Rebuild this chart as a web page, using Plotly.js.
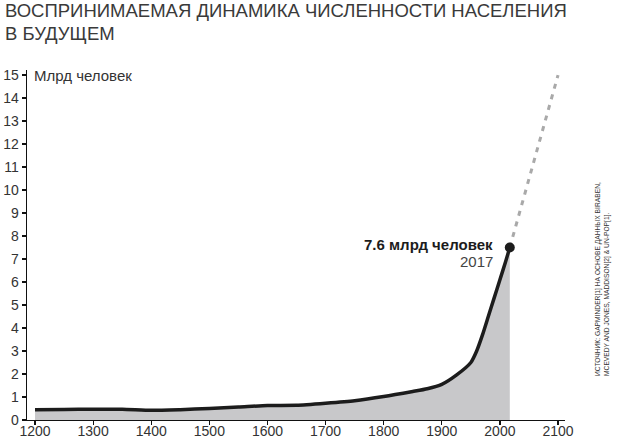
<!DOCTYPE html>
<html>
<head>
<meta charset="utf-8">
<script src="https://cdn.plot.ly/plotly-3.0.1.min.js"></script>
<style>html,body{margin:0;padding:0;background:#fff;}#chart{width:619px;height:438px;}</style>
</head>
<body>
<div id="chart"></div>
<script>
// Historical world population (billions)
const years = [1200, 1250, 1300, 1350, 1400, 1450, 1500, 1550, 1600, 1650, 1700, 1750, 1800, 1850, 1875, 1900, 1925, 1950, 1960, 1970, 1980, 1990, 2000, 2010, 2017];
const population = [0.45, 0.46, 0.47, 0.47, 0.42, 0.45, 0.50, 0.56, 0.63, 0.64, 0.73, 0.84, 1.02, 1.24, 1.36, 1.55, 1.95, 2.5, 3.0, 3.7, 4.5, 5.3, 6.1, 6.9, 7.5];
// Perceived future trend (dashed)
const projYears = [2017, 2100];
const projPop = [7.5, 15];
// Endpoint marker
const endYear = [2017];
const endPop = [7.5];
const xTicks = [1200, 1300, 1400, 1500, 1600, 1700, 1800, 1900, 2000, 2100];
const yTicks = [0, 1, 2, 3, 4, 5, 6, 7, 8, 9, 10, 11, 12, 13, 14, 15];
const titleLines = ['ВОСПРИНИМАЕМАЯ ДИНАМИКА ЧИСЛЕННОСТИ НАСЕЛЕНИЯ', 'В БУДУЩЕМ'];

const FONT = "Liberation Sans, Arial, Helvetica, sans-serif";

const traces = [
  {
    x: years, y: population, type: 'scatter', mode: 'lines',
    line: {color: '#1c1c1c', width: 3.5, shape: 'spline', smoothing: 0.6},
    fill: 'tozeroy', fillcolor: '#c8c8ca', hoverinfo: 'skip'
  },
  {
    x: projYears, y: projPop, type: 'scatter', mode: 'lines',
    line: {color: '#a9a9a9', width: 3, dash: '5px,6px'}, hoverinfo: 'skip'
  },
  {
    x: endYear, y: endPop, type: 'scatter', mode: 'markers',
    marker: {color: '#1c1c1c', size: 10}, hoverinfo: 'skip'
  }
];

// plot area: top 70px, height 350px
const py = px => (420 - px) / 350;

const layout = {
  width: 619, height: 438,
  margin: {l: 27, r: 54, t: 70, b: 18},
  paper_bgcolor: '#fff', plot_bgcolor: '#fff',
  showlegend: false,
  font: {family: FONT, color: '#333', size: 14},
  xaxis: {
    range: [1186.2, 2112], tickvals: xTicks, ticktext: xTicks.map(String),
    showline: true, linecolor: '#111', linewidth: 1.3,
    ticks: 'outside', ticklen: 4, tickcolor: '#111', tickwidth: 1.2,
    ticklabelstandoff: -6,
    showgrid: false, zeroline: false,
    tickfont: {family: FONT, size: 14, color: '#333'}, fixedrange: true
  },
  yaxis: {
    range: [0, 15.22], tickvals: yTicks, ticktext: yTicks.map(String),
    showline: true, linecolor: '#111', linewidth: 1.3,
    ticks: 'outside', ticklen: 4, tickcolor: '#111', tickwidth: 1.2,
    showgrid: false, zeroline: false,
    tickfont: {family: FONT, size: 14, color: '#333'}, fixedrange: true
  },
  annotations: [
    {
      text: titleLines[0], xref: 'paper', x: (3 - 27) / 538, xanchor: 'left',
      yref: 'paper', y: py(11), yanchor: 'middle', showarrow: false,
      font: {family: FONT, size: 18.5, color: '#3a3a3a'}
    },
    {
      text: titleLines[1], xref: 'paper', x: (3 - 27) / 538, xanchor: 'left',
      yref: 'paper', y: py(33), yanchor: 'middle', showarrow: false,
      font: {family: FONT, size: 18.5, color: '#3a3a3a'}
    },
    {
      text: 'Млрд человек', xref: 'paper', x: 0.0093, xanchor: 'left',
      yref: 'y', y: 15, yanchor: 'middle', showarrow: false,
      font: {family: FONT, size: 15, color: '#333'}
    },
    {
      text: '<b>7.6 млрд человек</b>', xref: 'x', x: endYear[0], yref: 'y', y: endPop[0],
      xanchor: 'right', yanchor: 'middle', xshift: -15, yshift: 3, showarrow: false,
      font: {family: FONT, size: 15, color: '#1c1c1c'}
    },
    {
      text: '2017', xref: 'x', x: endYear[0], yref: 'y', y: endPop[0],
      xanchor: 'right', yanchor: 'middle', xshift: -15, yshift: -14, showarrow: false,
      font: {family: FONT, size: 15, color: '#444'}
    },
    {
      text: 'ИСТОЧНИК: GAPMINDER[1] НА ОСНОВЕ ДАННЫХ BIRABEN,<br>MCEVEDY AND JONES, MADDISON[2] & UN-POP[1].',
      xref: 'paper', x: 1.0688, xanchor: 'center',
      yref: 'paper', y: 0.12, yanchor: 'bottom',
      textangle: -90, align: 'left', showarrow: false,
      font: {family: FONT, size: 6.7, color: '#333'}
    }
  ]
};

Plotly.newPlot('chart', traces, layout, {displayModeBar: false, staticPlot: true});
</script>
</body>
</html>
